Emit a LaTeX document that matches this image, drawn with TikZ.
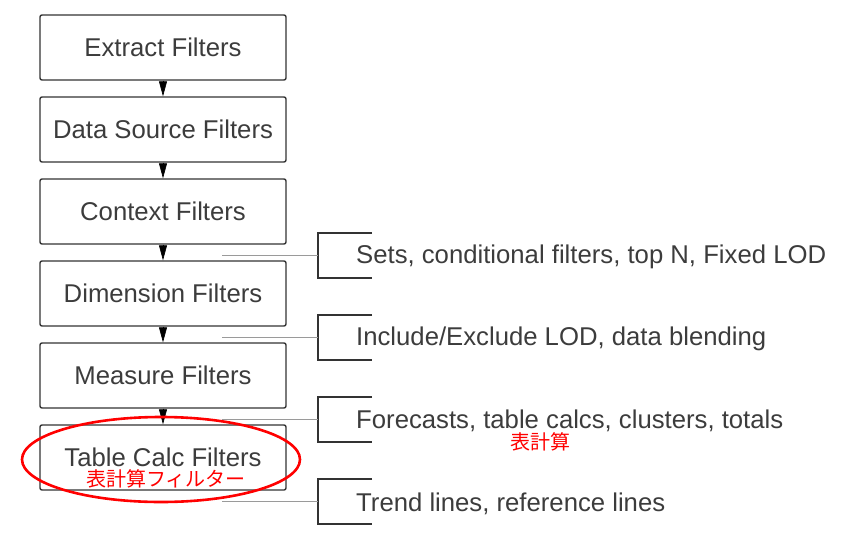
\documentclass[tikz,border=0pt]{standalone}
\usepackage{fontspec}
\setmainfont{Liberation Sans}
\newfontfamily\cjk{Noto Sans CJK JP}
\usetikzlibrary{arrows.meta}
\definecolor{ink}{HTML}{333333}
\definecolor{txt}{HTML}{3C3C3C}
\definecolor{leader}{HTML}{9A9A9A}
\begin{document}
\begin{tikzpicture}[x=1pt,y=-1pt,
  filterbox/.style={draw=ink, line width=1.4pt, rounded corners=2pt, minimum width=246pt, minimum height=65pt, inner sep=0pt, text=txt, font=\fontsize{25.7}{30}\selectfont},
  note/.style={anchor=west, inner sep=0pt, text=txt, font=\fontsize{25.7}{30}\selectfont},
  flow/.style={-{Triangle[width=8pt,length=15pt]}, draw=black, line width=0.6pt},
  bracket/.style={draw=ink, line width=1.4pt},
  leaderline/.style={draw=leader, line width=1.3pt},
  jp/.style={inner sep=0pt, text=red, font=\cjk\fontsize{20}{22}\selectfont}
]
\useasboundingbox (0,0) rectangle (851,546);

\node[filterbox] (ext) at (163,47.5) {Extract Filters};
\node[filterbox] (dsf) at (163,129.5) {Data Source Filters};
\node[filterbox] (ctx) at (163,211.5) {Context Filters};
\node[filterbox] (dim) at (163,293.5) {Dimension Filters};
\node[filterbox] (mea) at (163,375.5) {Measure Filters};
\node[filterbox] (tcf) at (163,457.5) {Table Calc Filters};

\draw[flow] (ext.south) -- (dsf.north);
\draw[flow] (dsf.south) -- (ctx.north);
\draw[flow] (ctx.south) -- (dim.north);
\draw[flow] (dim.south) -- (mea.north);
\draw[flow] (mea.south) -- (tcf.north);

\foreach \i/\yt in {1/233,2/315,3/397,4/479}{
  \draw[bracket] (372,\yt) -- (318,\yt) -- (318,\yt+45) -- (372,\yt+45);
  \coordinate (g\i) at (222,\yt+22.5);
  \coordinate (b\i) at (318,\yt+22.5);
  \draw[leaderline] (g\i) -- (b\i);
}

\node[note] (n1) at (356,257) {Sets, conditional filters, top N, Fixed LOD};
\node[note] (n2) at (356,339) {Include/Exclude LOD, data blending};
\node[note] (n3) at (356,421) {Forecasts, table calcs, clusters, totals};
\node[note] (n4) at (356,504) {Trend lines, reference lines};

\node[jp] (jp1) at (540,442) {表計算};
\node[jp] (jp2) at (166,479) {表計算フィルター};

\draw[red, line width=2.6pt] (161,459.5) ellipse [x radius=139, y radius=42.5];
\end{tikzpicture}
\end{document}
